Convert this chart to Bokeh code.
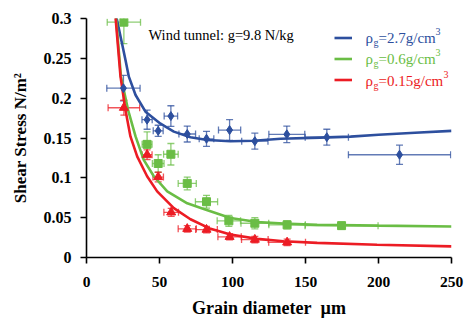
from bokeh.plotting import figure
from bokeh.models import FixedTicker, Label, Legend, LegendItem
from bokeh.embed import file_html
from bokeh.resources import INLINE
import math

# ---------------- data ----------------
x_ticks = [0, 50, 100, 150, 200, 250]
y_ticks = [0, 0.05, 0.1, 0.15, 0.2, 0.25, 0.3]
y_tick_labels = ["0", "0.05", "0.1", "0.15", "0.2", "0.25", "0.3"]

# rho_g = 2.7 g/cm3 (blue diamonds)
blue_x = [25.3, 41.5, 49.1, 57.8, 69.0, 82.2, 98.0, 115.3, 137.2, 164.6, 214.4]
blue_y = [0.2125, 0.173, 0.159, 0.1775, 0.155, 0.149, 0.160, 0.146, 0.1546, 0.151, 0.129]
blue_xerr = [11.4, 3.5, 3.4, 4.6, 5.7, 5.0, 7.6, 9.0, 12.3, 14.8, 35.0]
blue_yerr = [0.016, 0.012, 0.007, 0.013, 0.010, 0.0094, 0.013, 0.010, 0.0104, 0.010, 0.012]
blue_curve_x = [19.5, 24.4, 26.7, 29.0, 33.6, 40.4, 50.7, 59.8, 71.2, 82.7, 98.6, 114.6,
                133.0, 160.0, 180.8, 200.0, 225.0, 250.0]
blue_curve_y = [0.310, 0.268, 0.248, 0.227, 0.204, 0.183, 0.168, 0.158, 0.151, 0.1475,
                0.146, 0.1466, 0.149, 0.1505, 0.1517, 0.154, 0.1565, 0.159]

# rho_g = 0.6 g/cm3 (green squares)
green_x = [25.6, 41.5, 49.1, 57.8, 69.0, 82.2, 97.5, 115.3, 137.4, 174.7]
green_y = [0.2954, 0.142, 0.118, 0.1296, 0.093, 0.070, 0.046, 0.043, 0.041, 0.040]
green_xerr = [11.4, 3.4, 4.0, 5.0, 6.2, 7.6, 8.0, 9.5, 12.5, 25.0]
green_yerr = [0.027, 0.0156, 0.011, 0.0135, 0.008, 0.008, 0.007, 0.007, 0.005, 0.004]
green_curve_x = [19.8, 23.6, 28.5, 33.6, 39.2, 46.1, 55.3, 69.0, 80.3, 98.6, 116.9,
                 135.0, 158.0, 200.0, 250.0]
green_curve_y = [0.310, 0.227, 0.185, 0.152, 0.1225, 0.102, 0.083, 0.068, 0.061, 0.0496,
                 0.0446, 0.0425, 0.041, 0.040, 0.039]

# rho_g = 0.15 g/cm3 (red triangles)
red_x = [25.6, 41.5, 49.1, 58.0, 69.0, 82.2, 98.0, 115.3, 137.4]
red_y = [0.188, 0.129, 0.101, 0.0567, 0.036, 0.035, 0.026, 0.0225, 0.019]
red_xerr = [10.8, 3.4, 3.6, 5.0, 6.2, 7.4, 8.0, 9.1, 12.6]
red_yerr = [0.0094, 0.006, 0.006, 0.005, 0.004, 0.004, 0.004, 0.004, 0.004]
red_curve_x = [19.5, 23.3, 26.7, 30.1, 34.7, 41.5, 48.4, 59.8, 71.2, 85.0, 98.6, 116.9,
               135.0, 158.0, 199.0, 250.0]
red_curve_y = [0.310, 0.227, 0.185, 0.152, 0.127, 0.102, 0.083, 0.062, 0.048, 0.036,
               0.0288, 0.0234, 0.0204, 0.0184, 0.016, 0.014]

BLUE = "#2d4f9e"
GREEN = "#6abd45"
RED = "#ec1c24"
SERIF = "Liberation Serif"

p = figure(width=465, height=320, output_backend="svg", toolbar_location=None,
           x_range=(0, 250), y_range=(0, 0.3),
           min_border_left=86, min_border_right=14, min_border_top=18, min_border_bottom=62)
p.outline_line_color = None
p.grid.visible = False
p.background_fill_color = "white"
p.border_fill_color = "white"

for ax in (p.xaxis[0], p.yaxis[0]):
    ax.axis_line_color = "black"
    ax.axis_line_width = 1.6
    ax.major_tick_line_color = "black"
    ax.major_tick_line_width = 1.6
    ax.major_tick_in = 0
    ax.major_tick_out = 6
    ax.minor_tick_line_color = None
    ax.major_label_text_font = SERIF
    ax.major_label_text_font_style = "bold"
    ax.major_label_text_color = "black"
    ax.axis_label_text_font = SERIF
    ax.axis_label_text_font_style = "bold"
    ax.axis_label_text_color = "black"

p.xaxis.ticker = FixedTicker(ticks=x_ticks)
p.yaxis.ticker = FixedTicker(ticks=y_ticks)
p.yaxis.major_label_overrides = {t: s for t, s in zip(y_ticks, y_tick_labels)}
p.xaxis.major_label_text_font_size = "15.5px"
p.yaxis.major_label_text_font_size = "16px"
p.xaxis.major_label_standoff = 13
p.yaxis.major_label_standoff = 9
p.xaxis.axis_label = "Grain diameter\u00a0\u00a0µm"
p.yaxis.axis_label = "Shear Stress N/m²"
p.xaxis.axis_label_text_font_size = "18px"
p.yaxis.axis_label_text_font_size = "17px"
p.xaxis.axis_label_standoff = 8
p.yaxis.axis_label_standoff = 11


def error_bars(xs, ys, xerr, yerr, color):
    x0 = [x - e for x, e in zip(xs, xerr)]
    x1 = [x + e for x, e in zip(xs, xerr)]
    y0 = [y - e for y, e in zip(ys, yerr)]
    y1 = [y + e for y, e in zip(ys, yerr)]
    p.segment(x0=x0, y0=ys, x1=x1, y1=ys, line_color=color, line_width=1.3, line_alpha=0.75)
    p.segment(x0=xs, y0=y0, x1=xs, y1=y1, line_color=color, line_width=1.3, line_alpha=0.75)
    p.scatter(x=xs + xs, y=y0 + y1, marker="dash", size=7, line_color=color,
              line_width=1.3, line_alpha=0.75)
    p.scatter(x=x0 + x1, y=ys + ys, marker="dash", size=7, angle=math.pi / 2,
              line_color=color, line_width=1.3, line_alpha=0.75)


error_bars(blue_x, blue_y, blue_xerr, blue_yerr, BLUE)
error_bars(green_x, green_y, green_xerr, green_yerr, GREEN)
error_bars(red_x, red_y, red_xerr, red_yerr, RED)

rb = p.line(blue_curve_x, blue_curve_y, line_color=BLUE, line_width=2.6)
rg = p.line(green_curve_x, green_curve_y, line_color=GREEN, line_width=2.6)
rr = p.line(red_curve_x, red_curve_y, line_color=RED, line_width=2.6)

p.scatter(blue_x, blue_y, marker="diamond", size=9, fill_color=BLUE, line_color=BLUE)
p.scatter(green_x, green_y, marker="square", size=8, fill_color=GREEN, line_color=GREEN)
p.scatter(red_x, red_y, marker="triangle", size=9, fill_color=RED, line_color=RED)

legend = Legend(items=[LegendItem(label=" ", renderers=[rb]),
                       LegendItem(label=" ", renderers=[rg]),
                       LegendItem(label=" ", renderers=[rr])],
                location=(248, 167), padding=0, margin=0, spacing=0,
                glyph_width=18, glyph_height=21, label_height=21, label_width=0,
                label_standoff=0, label_text_font_size="8px",
                border_line_color=None, background_fill_alpha=0)
p.add_layout(legend, "center")

# legend texts with subscript / superscript pieces (screen units, frame-relative)
legend_rows = [("=2.7g/cm", BLUE, 220), ("=0.6g/cm", GREEN, 199), ("=0.15g/cm", RED, 177)]
main_widths = [57, 57, 65]
for (txt, col, yy), w in zip(legend_rows, main_widths):
    x0 = 279
    p.add_layout(Label(x=x0, y=yy, x_units="screen", y_units="screen", text="ρ",
                       text_font=SERIF, text_font_size="15px", text_color=col,
                       text_baseline="middle"))
    p.add_layout(Label(x=x0 + 8, y=yy - 5, x_units="screen", y_units="screen", text="g",
                       text_font=SERIF, text_font_size="10px", text_color=col,
                       text_baseline="middle"))
    p.add_layout(Label(x=x0 + 13, y=yy, x_units="screen", y_units="screen", text=txt,
                       text_font=SERIF, text_font_size="15px", text_color=col,
                       text_baseline="middle"))
    p.add_layout(Label(x=x0 + 13 + w, y=yy + 6, x_units="screen", y_units="screen", text="3",
                       text_font=SERIF, text_font_size="10px", text_color=col,
                       text_baseline="middle"))

p.add_layout(Label(x=62, y=223, x_units="screen", y_units="screen",
                   text="Wind tunnel: g=9.8 N/kg", text_font=SERIF, text_font_size="14.5px",
                   text_color="black", text_baseline="middle"))

open("out.html", "w").write(file_html(p, INLINE))
